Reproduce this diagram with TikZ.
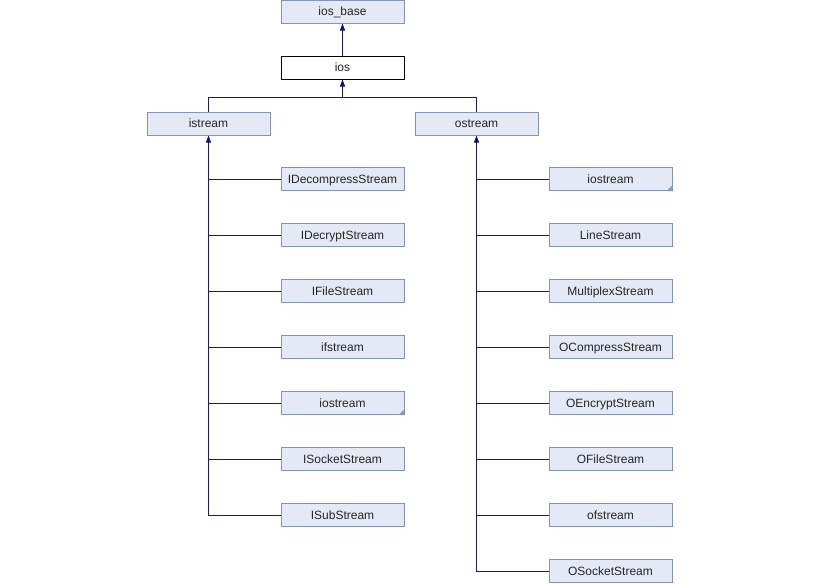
\documentclass[tikz,border=0pt]{standalone}
\usepackage{fontspec}
\setmainfont{Liberation Sans}
\usetikzlibrary{arrows.meta,positioning}
\definecolor{link}{HTML}{1C1C6B}
\definecolor{tip}{HTML}{10107A}
\definecolor{boxfill}{HTML}{E4E9F5}
\definecolor{boxline}{HTML}{8494B8}
\definecolor{corner}{HTML}{8798C2}

\begin{document}
\begin{tikzpicture}[x=1pt,y=-1pt,font=\fontsize{12}{14}\selectfont,
  cls/.style={draw=boxline,fill=boxfill,line width=1pt,minimum width=123pt,minimum height=23pt,inner sep=0pt,text height=10pt,text depth=2pt,text=black!85},
  conn/.style={draw=link,line width=1pt},
  inherit/.style={conn,-{Triangle[length=7pt,width=5pt,color=tip]}}]
  \useasboundingbox[fill=white] (0,0) rectangle (820,584);

  % Base classes
  \node[cls] (iosbase) at (342.5,11.5) {ios\_base};
  \node[cls,draw=black,fill=white] (ios) at (342.5,67.5) {ios};
  \node[cls] (istream) at (208.5,123.5) {istream};
  \node[cls] (ostream) at (476.5,123.5) {ostream};

  % Input streams
  \foreach \i/\lab in {1/IDecompressStream, 2/IDecryptStream, 3/IFileStream, 4/ifstream, 5/iostream, 6/ISocketStream, 7/ISubStream} {
    \node[cls] (l\i) at (342.5,{123+56*\i}) {\lab};
  }

  % Output streams
  \foreach \i/\lab in {1/iostream, 2/LineStream, 3/MultiplexStream, 4/OCompressStream, 5/OEncryptStream, 6/OFileStream, 7/ofstream, 8/OSocketStream} {
    \node[cls] (r\i) at (610.5,{123+56*\i}) {\lab};
  }

  % Corner marks for truncated nodes
  \fill[corner] (l5.south east) -- ++(-6,0) -- ++(6,-6) -- cycle;
  \fill[corner] (r1.south east) -- ++(-6,0) -- ++(6,-6) -- cycle;

  % Edges up to ios
  \draw[inherit] (ios.north) -- (iosbase.south);
  \coordinate (join) at (342.5,97);
  \draw[conn] (istream.north) |- (join);
  \draw[conn] (ostream.north) |- (join);
  \draw[inherit] (join) -- (ios.south);

  % Edges to istream
  \draw[inherit] (l7.west) -| (istream.south);
  \foreach \i in {1,...,6}
    \draw[conn] (l\i.west) -- (l\i.west -| istream.south);

  % Edges to ostream
  \draw[inherit] (r8.west) -| (ostream.south);
  \foreach \i in {1,...,7}
    \draw[conn] (r\i.west) -- (r\i.west -| ostream.south);
\end{tikzpicture}
\end{document}
